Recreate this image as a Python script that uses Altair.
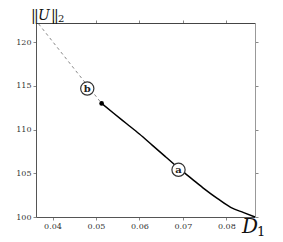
import altair as alt
import pandas as pd

# solid branch (D1, ||U||_2)
curve_x = [0.0513, 0.054, 0.057, 0.060, 0.063, 0.066, 0.069, 0.072, 0.075, 0.078, 0.081, 0.084, 0.0866]
curve_y = [113.0, 111.9, 110.7, 109.5, 108.2, 106.9, 105.6, 104.4, 103.2, 102.1, 101.1, 100.5, 100.0]
# dashed extension
dash_x = [0.0368, 0.0513]
dash_y = [122.1, 113.0]
# labelled points
lab_names = ["a", "b"]
lab_x = [0.069, 0.048]
lab_y = [105.4, 114.7]

x_ticks = [0.04, 0.05, 0.06, 0.07, 0.08]
y_ticks = [100, 105, 110, 115, 120]

XD = [0.0362, 0.0866]
YD = [100, 122.2]
SERIF = "DejaVu Serif"

curve = pd.DataFrame({"x": curve_x, "y": curve_y})
dash = pd.DataFrame({"x": dash_x, "y": dash_y})
labs = pd.DataFrame({"x": lab_x, "y": lab_y, "t": lab_names})
start = curve.iloc[[0]]

def ax(orient, labels=True, color="#555"):
    horiz = orient in ("top", "bottom")
    return alt.Axis(orient=orient, values=x_ticks if horiz else y_ticks,
                    format=".2f" if horiz else "d", labels=labels,
                    grid=False, title=None, tickSize=3, tickColor="#888",
                    domainColor=color, labelFont=SERIF, labelFontSize=8,
                    labelColor="#333", labelPadding=2)

xs = alt.Scale(domain=XD, nice=False, zero=False)
ys = alt.Scale(domain=YD, nice=False, zero=False)

def X(axis=None):
    return alt.X("x:Q", scale=xs, axis=axis)

def Y(axis=None):
    return alt.Y("y:Q", scale=ys, axis=axis)

base_line = alt.Chart(curve).mark_line(color="black", strokeWidth=1.5, interpolate="monotone").encode(
    x=X(ax("bottom")), y=Y(ax("left")))
top_right = alt.Chart(curve).mark_line(opacity=0).encode(
    x=X(ax("top", labels=False, color="#444")), y=Y(ax("right", labels=False, color="#999")))
dashed = alt.Chart(dash).mark_line(color="#888", strokeWidth=1, strokeDash=[3, 3]).encode(x=X(), y=Y())
dot = alt.Chart(start).mark_point(filled=True, color="black", size=22, opacity=1).encode(x=X(), y=Y())
rings = alt.Chart(labs).mark_point(shape="circle", size=175, fill="white", stroke="#333",
                                    strokeWidth=1.2, opacity=1, fillOpacity=1).encode(x=X(), y=Y())
letters = alt.Chart(labs).mark_text(font=SERIF, fontSize=10, fontWeight="bold", color="#222",
                                     baseline="middle", align="center", dy=0.5).encode(
    x=X(), y=Y(), text="t:N")

one = pd.DataFrame({"a": [0]})

def txt(s, x, y, size, italic=False):
    return alt.Chart(one).mark_text(font=SERIF, fontSize=size, align="left", baseline="alphabetic",
                                    fontStyle="italic" if italic else "normal", color="#111").encode(
        x=alt.value(x), y=alt.value(y), text=alt.value(s))

ylab = [txt("|", -5, -3, 14), txt("|", -2, -3, 14), txt("U", 2, -3, 14, True),
        txt("|", 15, -3, 14), txt("|", 18, -3, 14), txt("2", 22, -1, 10)]
xlab = [txt("D", 206, 210, 20, True), txt("1", 221, 213, 13)]

chart = alt.layer(base_line, top_right, dashed, dot, rings, letters, *ylab, *xlab).resolve_axis(
    x="independent", y="independent"
).properties(
    width=219, height=194,
    autosize=alt.AutoSizeParams(type="none"),
    padding={"left": 28, "top": 15, "right": 20, "bottom": 25},
).configure_view(stroke=None).configure(background="white")

chart.save("out.html", embed_options={"renderer": "svg", "actions": False})
